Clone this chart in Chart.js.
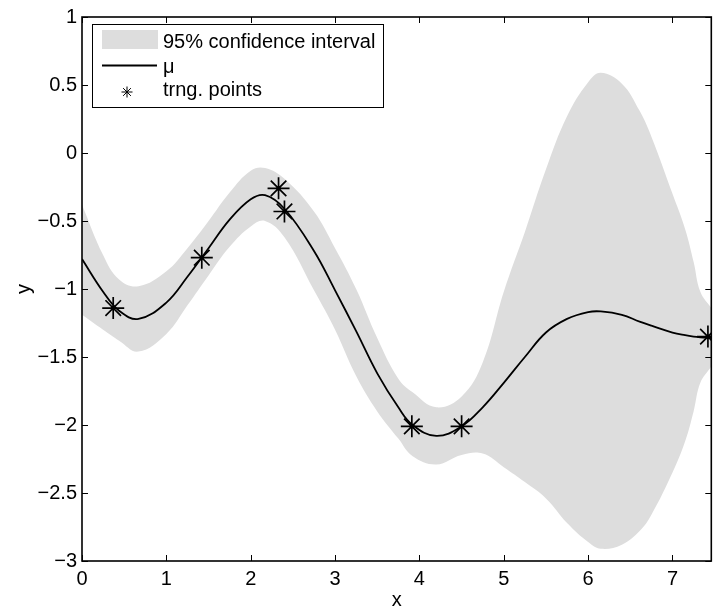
<!DOCTYPE html>
<html>
<head>
<meta charset="utf-8">
<script src="https://cdn.jsdelivr.net/npm/chart.js@4"></script>
<style>
  html, body { margin: 0; padding: 0; background: #fff; overflow: hidden; }
  #wrap { position: relative; width: 724px; height: 614px; }
</style>
</head>
<body>
<div id="wrap"><canvas id="gp" width="724" height="614"></canvas></div>
<script>
const xGrid = [0, 0.25, 0.44, 0.67, 1.0, 1.25, 1.5, 1.75, 2.0, 2.17, 2.4, 2.75, 3.0, 3.25, 3.5, 3.75, 3.92,
  4.2, 4.5, 4.75, 5.0, 5.25, 5.5, 5.75, 6.0, 6.15, 6.4, 6.61, 6.75, 7.0, 7.15, 7.25, 7.33, 7.46];
const muVals = [-0.78, -1.02, -1.16, -1.22, -1.10, -0.91, -0.70, -0.49, -0.34, -0.31, -0.41, -0.72, -1.01,
  -1.31, -1.62, -1.87, -2.00, -2.08, -2.01, -1.87, -1.69, -1.50, -1.32, -1.22, -1.17, -1.165, -1.19,
  -1.24, -1.27, -1.32, -1.34, -1.35, -1.355, -1.36];
const upperVals = [-0.38, -0.75, -0.93, -0.98, -0.87, -0.70, -0.50, -0.29, -0.13, -0.11, -0.19, -0.43, -0.70,
  -1.00, -1.36, -1.66, -1.76, -1.87, -1.79, -1.54, -1.02, -0.58, -0.12, 0.27, 0.52, 0.59, 0.51,
  0.31, 0.12, -0.30, -0.56, -0.80, -1.02, -1.14];
const lowerVals = [-1.19, -1.30, -1.38, -1.46, -1.33, -1.12, -0.90, -0.69, -0.54, -0.50, -0.62, -1.01, -1.30,
  -1.64, -1.90, -2.10, -2.23, -2.29, -2.22, -2.21, -2.31, -2.42, -2.54, -2.72, -2.86, -2.91, -2.88,
  -2.78, -2.66, -2.35, -2.12, -1.90, -1.69, -1.57];

// training points
const trainX = [0.37, 1.42, 2.33, 2.40, 3.91, 4.50, 7.42];
const trainY = [-1.14, -0.77, -0.26, -0.43, -2.01, -2.01, -1.35];

const xTicks = [0, 1, 2, 3, 4, 5, 6, 7];
const yTicks = [-3, -2.5, -2, -1.5, -1, -0.5, 0, 0.5, 1];
const legendLabels = ['95% confidence interval', '\u03bc', 'trng. points'];

const FONT = "'Liberation Sans', Arial, Helvetica, sans-serif";
const bandColor = '#dddddd';

const toPts = (xs, ys) => xs.map((x, i) => ({ x: x, y: ys[i] }));

// matlab style box with inward ticks + legend inside the axes
const boxPlugin = {
  id: 'boxPlugin',
  afterDraw(chart) {
    const ctx = chart.ctx;
    const a = chart.chartArea;
    const xs = chart.scales.x;
    const ys = chart.scales.y;
    ctx.save();
    ctx.strokeStyle = '#000';
    ctx.lineWidth = 1.6;
    ctx.strokeRect(a.left, a.top, a.right - a.left, a.bottom - a.top);

    ctx.lineWidth = 1;
    ctx.beginPath();
    xTicks.forEach(v => {
      const px = Math.round(xs.getPixelForValue(v)) + 0.5;
      ctx.moveTo(px, a.bottom); ctx.lineTo(px, a.bottom - 6);
      ctx.moveTo(px, a.top); ctx.lineTo(px, a.top + 6);
    });
    yTicks.forEach(v => {
      const py = Math.round(ys.getPixelForValue(v)) + 0.5;
      ctx.moveTo(a.left, py); ctx.lineTo(a.left + 6, py);
      ctx.moveTo(a.right, py); ctx.lineTo(a.right - 6, py);
    });
    ctx.stroke();

    // legend
    const lx = 92, ly = 24, lw = 291, lh = 83;
    ctx.fillStyle = '#fff';
    ctx.fillRect(lx, ly, lw, lh);
    ctx.lineWidth = 1;
    ctx.strokeRect(lx + 0.5, ly + 0.5, lw, lh);

    ctx.fillStyle = bandColor;
    ctx.fillRect(102, 30, 56, 19);

    ctx.strokeStyle = '#000';
    ctx.lineWidth = 1.8;
    ctx.beginPath();
    ctx.moveTo(102, 65.5); ctx.lineTo(157, 65.5);
    ctx.stroke();

    ctx.lineWidth = 1;
    Chart.helpers.drawPoint(ctx, { pointStyle: 'star', radius: 5.5, borderWidth: 1 }, 127, 92);

    ctx.fillStyle = '#000';
    ctx.font = '20px ' + FONT;
    ctx.textBaseline = 'alphabetic';
    ctx.textAlign = 'left';
    ctx.fillText(legendLabels[0], 163, 48);
    ctx.fillText(legendLabels[1], 163, 73);
    ctx.fillText(legendLabels[2], 163, 96);
    ctx.restore();
  }
};

new Chart(document.getElementById('gp'), {
  type: 'line',
  data: {
    datasets: [
      {
        label: 'trng. points',
        data: toPts(trainX, trainY),
        showLine: false,
        pointStyle: 'star',
        pointRadius: 11,
        pointBorderColor: '#000',
        pointBorderWidth: 1.7,
        borderColor: '#000',
        order: 0
      },
      {
        label: 'mu',
        data: toPts(xGrid, muVals),
        borderColor: '#000',
        borderWidth: 1.8,
        pointRadius: 0,
        tension: 0.4,
        fill: false,
        order: 1
      },
      {
        label: 'upper',
        data: toPts(xGrid, upperVals),
        borderWidth: 0,
        borderColor: bandColor,
        backgroundColor: bandColor,
        pointRadius: 0,
        tension: 0.4,
        fill: '+1',
        order: 2
      },
      {
        label: 'lower',
        data: toPts(xGrid, lowerVals),
        borderWidth: 0,
        borderColor: bandColor,
        backgroundColor: bandColor,
        pointRadius: 0,
        tension: 0.4,
        fill: false,
        order: 3
      }
    ]
  },
  options: {
    responsive: false,
    animation: false,
    devicePixelRatio: 1,
    layout: { padding: { left: 0, top: 15, right: 1, bottom: 0 } },
    plugins: {
      legend: { display: false },
      tooltip: { enabled: false }
    },
    scales: {
      x: {
        type: 'linear',
        min: 0,
        max: 7.46,
        afterBuildTicks: s => { s.ticks = xTicks.map(v => ({ value: v })); },
        afterFit: s => { s.height = 53; },
        grid: { display: false, drawTicks: false },
        border: { display: false },
        ticks: {
          color: '#000',
          font: { family: FONT, size: 20 },
          padding: 6,
          maxRotation: 0,
          autoSkip: false
        },
        title: {
          display: true,
          text: 'x',
          color: '#000',
          font: { family: FONT, size: 20 },
          padding: { top: 0, bottom: 2 }
        }
      },
      y: {
        type: 'linear',
        min: -3,
        max: 1,
        afterBuildTicks: s => { s.ticks = yTicks.map(v => ({ value: v })); },
        afterFit: s => { s.width = 82; },
        grid: { display: false, drawTicks: false },
        border: { display: false },
        ticks: {
          color: '#000',
          font: { family: FONT, size: 20 },
          padding: 5,
          callback: v => (v < 0 ? '\u2212' : '') + Math.abs(v)
        },
        title: {
          display: true,
          text: 'y',
          color: '#000',
          font: { family: FONT, size: 20 },
          padding: { top: 12, bottom: 0 }
        }
      }
    }
  },
  plugins: [boxPlugin]
});
</script>
</body>
</html>
